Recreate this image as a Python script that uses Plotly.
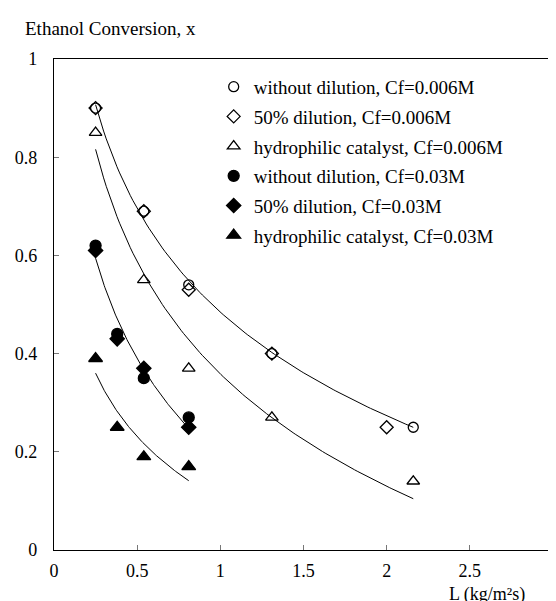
import numpy as np
import plotly.graph_objects as go

# ---- data ----
L_wo_006 = [0.25, 0.54, 0.81, 1.31, 2.16]
x_wo_006 = [0.90, 0.69, 0.54, 0.40, 0.25]

L_d50_006 = [0.25, 0.54, 0.81, 1.31, 2.00]
x_d50_006 = [0.90, 0.69, 0.53, 0.40, 0.25]

L_hy_006 = [0.25, 0.54, 0.81, 1.31, 2.16]
x_hy_006 = [0.85, 0.55, 0.37, 0.27, 0.14]

L_wo_03 = [0.25, 0.38, 0.54, 0.81]
x_wo_03 = [0.62, 0.44, 0.35, 0.27]

L_d50_03 = [0.25, 0.38, 0.54, 0.81]
x_d50_03 = [0.61, 0.43, 0.37, 0.25]

L_hy_03 = [0.25, 0.38, 0.54, 0.81]
x_hy_03 = [0.39, 0.25, 0.19, 0.17]

names = [
    "without dilution, Cf=0.006M",
    "50% dilution, Cf=0.006M",
    "hydrophilic catalyst, Cf=0.006M",
    "without dilution, Cf=0.03M",
    "50% dilution, Cf=0.03M",
    "hydrophilic catalyst, Cf=0.03M",
]
x_ticks = [0, 0.5, 1, 1.5, 2, 2.5, 3]
y_ticks = [0, 0.2, 0.4, 0.6, 0.8, 1]

FONT = "'Liberation Serif', 'Times New Roman', Times, serif"

fig = go.Figure()


def log_trend(xs, ys):
    """Logarithmic trendline (least squares of y on ln x) over the data span."""
    b, a = np.polyfit(np.log(xs), ys, 1)
    xx = np.linspace(min(xs), max(xs), 120)
    return xx, a + b * np.log(xx)


# trendlines
for xs, ys in [(L_wo_006, x_wo_006), (L_hy_006, x_hy_006),
               (L_wo_03, x_wo_03), (L_hy_03, x_hy_03)]:
    tx, ty = log_trend(xs, ys)
    fig.add_trace(go.Scatter(x=tx, y=ty, mode="lines",
                             line=dict(color="black", width=1),
                             showlegend=False, hoverinfo="skip"))

series = [
    (L_wo_006, x_wo_006, "circle-open", 10),
    (L_d50_006, x_d50_006, "diamond-open", 10),
    (L_hy_006, x_hy_006, "triangle-up-open", 11),
    (L_wo_03, x_wo_03, "circle", 11),
    (L_d50_03, x_d50_03, "diamond", 11),
    (L_hy_03, x_hy_03, "triangle-up", 12),
]
for i, (xs, ys, sym, sz) in enumerate(series):
    fig.add_trace(go.Scatter(
        x=xs, y=ys, mode="markers", name=names[i], legendgroup=str(i),
        marker=dict(symbol=sym, size=sz, color="black",
                    line=dict(color="black", width=1.3)),
    ))

axis_common = dict(
    showline=True, linecolor="black", linewidth=1.3, mirror=True,
    showgrid=False, zeroline=False, ticks="inside", ticklen=5,
    tickcolor="#777", tickwidth=1,
    tickfont=dict(family=FONT, size=18, color="black"),
)

fig.update_layout(
    width=556, height=601,
    margin=dict(l=44, r=7, t=51, b=59),
    paper_bgcolor="white", plot_bgcolor="white",
    font=dict(family=FONT, color="black"),
    xaxis=dict(range=[0, 3.0001], tickvals=x_ticks,
               ticktext=[f"{v:g}" for v in x_ticks],
               ticklabelstandoff=4, ticklabeloverflow="allow",
               **axis_common),
    yaxis=dict(range=[0, 1], tickvals=y_ticks,
               ticktext=[f"{v:g}" for v in y_ticks],
               ticklabelstandoff=12, **axis_common),
    legend=dict(x=0.32, y=0.982, xanchor="left", yanchor="top",
                bgcolor="rgba(0,0,0,0)", borderwidth=0,
                font=dict(family=FONT, size=19, color="black"),
                tracegroupgap=2, itemwidth=30),
    showlegend=True,
    annotations=[
        dict(text="Ethanol Conversion, x", xref="paper", yref="paper",
             x=-0.063, y=1.063, xanchor="left", yanchor="middle",
             showarrow=False, font=dict(family=FONT, size=19, color="black")),
        dict(text="L (kg/m²s)", xref="paper", yref="paper",
             x=0.868, y=-0.0915, xanchor="center", yanchor="middle",
             showarrow=False, font=dict(family=FONT, size=18, color="black")),
    ],
)

fig.write_html("out.html")
